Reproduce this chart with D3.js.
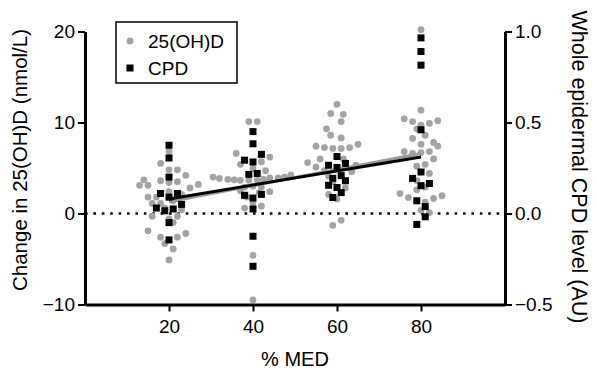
<!DOCTYPE html>
<html>
<head>
<meta charset="utf-8">
<script src="https://cdn.jsdelivr.net/npm/d3@7"></script>
<style>
  body { margin: 0; background: #fff; }
  text { font-family: "Liberation Sans", Arial, sans-serif; fill: #000; }
</style>
</head>
<body>
<script>
// % MED groups on the x axis
let xTicks = [20, 40, 60, 80];
let yTicksLeft = [-10, 0, 10, 20];
let yTicksRight = [-0.5, 0.0, 0.5, 1.0];

// change in 25(OH)D (nmol/L), [x position, value]
let ohdPoints = [
  [20, 6.8], [18, 5.5], [20, 4.8], [22, 4.8], [24, 4.2], [14, 3.7], [13, 3.1], [15, 3.1], [18, 3.6],
  [20, 3.4], [22, 3.5], [25, 2.8], [27, 3.2], [15, 1.8], [17, 1.8], [16, 1.1], [18, 1.1], [20, 2.4],
  [23, 2.1], [21, 1.4], [19, 0.6], [23, 0.4], [16, -0.3], [22, -0.3], [20, -0.6], [21, -1.0],
  [15, -1.9], [18, -2.6], [22, -2.6], [24, -2.2], [19, -3.3], [21, -3.9], [20, -5.1],
  [39, 10.1], [41, 10.1], [36, 6.6], [44, 6.2], [37, 5.4], [42, 5.7], [40, 4.95], [43, 4.7],
  [30.5, 4.0], [32, 3.85], [34, 3.75], [35.5, 3.7], [37, 3.65], [39, 3.65], [41, 3.65], [42.5, 3.75],
  [44, 3.9], [46, 3.9], [47.5, 4.0], [49, 4.25], [38, 2.9], [40, 3.0], [42, 2.9], [37, 2.5], [44, 2.4],
  [38.5, 1.8], [41.5, 2.3], [38, 0.6], [42, 0.8], [40, 1.2], [40, -4.6], [40, -9.5],
  [60, 12.0], [58.5, 11.0], [61.5, 10.9], [61, 10.1], [57.5, 9.3], [58.5, 8.6], [61, 8.3], [55, 7.4],
  [57, 7.25], [59, 7.15], [61, 7.15], [63, 7.25], [65, 7.6], [53, 5.6], [55, 5.1], [63.5, 4.6],
  [58, 4.1], [57, 4.7], [62, 2.8], [58, 2.1], [60, 1.6], [62, 5.6], [59, 3.5], [61.5, 6.0],
  [59, -1.3], [61, -0.75], [64.5, 5.3], [56, 6.0],
  [80, 20.2], [80, 11.35], [76, 10.4], [78, 10.1], [80, 9.7], [82, 9.9], [84, 10.2], [79, 9.3],
  [81, 8.6], [78, 8.25], [80, 7.6], [83, 7.8], [84, 7.4], [80, 6.7], [76, 6.8], [82, 6.8], [78, 6.6],
  [83, 6.0], [81, 5.4], [79, 5.2], [82, 4.4], [79, 2.6], [75, 2.2], [77, 1.75], [83, 1.65], [85, 1.95],
  [81, 1.25], [80, 0.35], [82, 0.1], [79, 3.6], [81, 2.9]
];

// whole epidermal CPD level (AU), [x position, value]
let cpdPoints = [
  [20, 0.375], [20, 0.305], [20, 0.2], [18, 0.11], [22, 0.11], [20, 0.09], [23, 0.05], [17, 0.03],
  [19, 0.015], [21, 0.025], [20, -0.05], [20, -0.145],
  [40, 0.45], [40, 0.383], [42, 0.325], [38, 0.293], [40, 0.283], [39, 0.215], [41, 0.22],
  [38, 0.1], [40, 0.085], [42, 0.105], [40, 0.025], [40, -0.125], [40, -0.29],
  [60, 0.313], [58, 0.265], [60, 0.253], [62, 0.275], [59, 0.193], [61, 0.208], [62, 0.18],
  [58, 0.155], [60, 0.143], [61, 0.115], [59, 0.088],
  [80, 0.965], [80, 0.89], [80, 0.815], [80, 0.46], [80, 0.228], [78, 0.193], [82, 0.165],
  [80, 0.153], [79, 0.07], [81, 0.038], [81, -0.018], [79, -0.06]
];

// regression lines, [x, value on its own axis]
let ohdFit = [[20, 1.3], [80, 6.6]];
let cpdFit = [[20, 0.08], [80, 0.31]];

let W = 597, H = 379;
let margin = { top: 31.5, left: 85, bottom: 74.5, right: 92 };

let svg = d3.select("body").append("svg")
  .attr("width", W)
  .attr("height", H);

let x = d3.scaleLinear().domain([0, 100]).range([margin.left, W - margin.right]);
let yL = d3.scaleLinear().domain([-10, 20]).range([H - margin.bottom, margin.top]);
let yR = d3.scaleLinear().domain([-0.5, 1.0]).range([H - margin.bottom, margin.top]);

// dotted zero line
svg.append("line")
  .attr("x1", x(0)).attr("x2", x(100))
  .attr("y1", yL(0)).attr("y2", yL(0))
  .attr("stroke", "#000")
  .attr("stroke-width", 2.6)
  .attr("stroke-dasharray", "2.6,5.8");

// gray points
svg.selectAll(".ohd")
  .data(ohdPoints)
  .enter()
  .append("circle")
  .attr("class", "ohd")
  .attr("cx", d => x(d[0]))
  .attr("cy", d => yL(d[1]))
  .attr("r", 3.4)
  .attr("fill", "#a3a3a3");

// regression lines
let fitLine = d3.line().x(d => x(d[0])).y(d => yL(d[1]));
svg.append("path")
  .attr("d", fitLine(ohdFit))
  .attr("stroke", "#9a9a9a")
  .attr("stroke-width", 3)
  .attr("fill", "none");

// black squares
let sq = 7;
svg.selectAll(".cpd")
  .data(cpdPoints)
  .enter()
  .append("rect")
  .attr("class", "cpd")
  .attr("x", d => x(d[0]) - sq / 2)
  .attr("y", d => yR(d[1]) - sq / 2)
  .attr("width", sq)
  .attr("height", sq)
  .attr("fill", "#000");

svg.append("path")
  .attr("d", d3.line().x(d => x(d[0])).y(d => yR(d[1]))(cpdFit))
  .attr("stroke", "#000")
  .attr("stroke-width", 3)
  .attr("fill", "none");

// axes
function styleAxis(g) {
  g.select(".domain").attr("stroke-width", 3).attr("stroke", "#000");
  g.selectAll(".tick line").attr("stroke-width", 2).attr("stroke", "#000");
  g.selectAll(".tick text").style("font-size", "19px").style("font-family", "Liberation Sans, Arial, sans-serif");
}

svg.append("g")
  .attr("transform", "translate(0," + yL(-10) + ")")
  .call(d3.axisBottom(x).tickValues(xTicks).tickSize(7).tickSizeOuter(0).tickPadding(8))
  .call(styleAxis);

svg.append("g")
  .attr("transform", "translate(" + x(0) + ",0)")
  .call(d3.axisLeft(yL).tickValues(yTicksLeft).tickSize(7).tickSizeOuter(0).tickPadding(3))
  .call(styleAxis);

svg.append("g")
  .attr("transform", "translate(" + x(100) + ",0)")
  .call(d3.axisRight(yR).tickValues(yTicksRight).tickFormat(d3.format(".1f")).tickSize(7).tickSizeOuter(0).tickPadding(3))
  .call(styleAxis);

// axis titles
svg.append("text")
  .attr("transform", "translate(" + (x(50)) + ",366)")
  .attr("text-anchor", "middle")
  .style("font-size", "20px")
  .text("% MED");

svg.append("text")
  .attr("transform", "translate(27," + ((yL(20) + yL(-10)) / 2 - 8) + ") rotate(-90)")
  .attr("text-anchor", "middle")
  .style("font-size", "20.5px")
  .text("Change in 25(OH)D (nmol/L)");

svg.append("text")
  .attr("transform", "translate(572," + ((yL(20) + yL(-10)) / 2 - 1) + ") rotate(90)")
  .attr("text-anchor", "middle")
  .style("font-size", "21.5px")
  .text("Whole epidermal CPD level (AU)");

// legend
let legend = svg.append("g");
legend.append("rect")
  .attr("x", 116).attr("y", 22)
  .attr("width", 121).attr("height", 61)
  .attr("fill", "#fff")
  .attr("stroke", "#000")
  .attr("stroke-width", 1.5);
legend.append("circle")
  .attr("cx", 130).attr("cy", 41).attr("r", 3.4)
  .attr("fill", "#a3a3a3");
legend.append("rect")
  .attr("x", 130 - sq / 2).attr("y", 68 - sq / 2)
  .attr("width", sq).attr("height", sq)
  .attr("fill", "#000");
legend.append("text")
  .attr("x", 148).attr("y", 47.5)
  .style("font-size", "19px")
  .text("25(OH)D");
legend.append("text")
  .attr("x", 148).attr("y", 74.5)
  .style("font-size", "19px")
  .text("CPD");
</script>
</body>
</html>
